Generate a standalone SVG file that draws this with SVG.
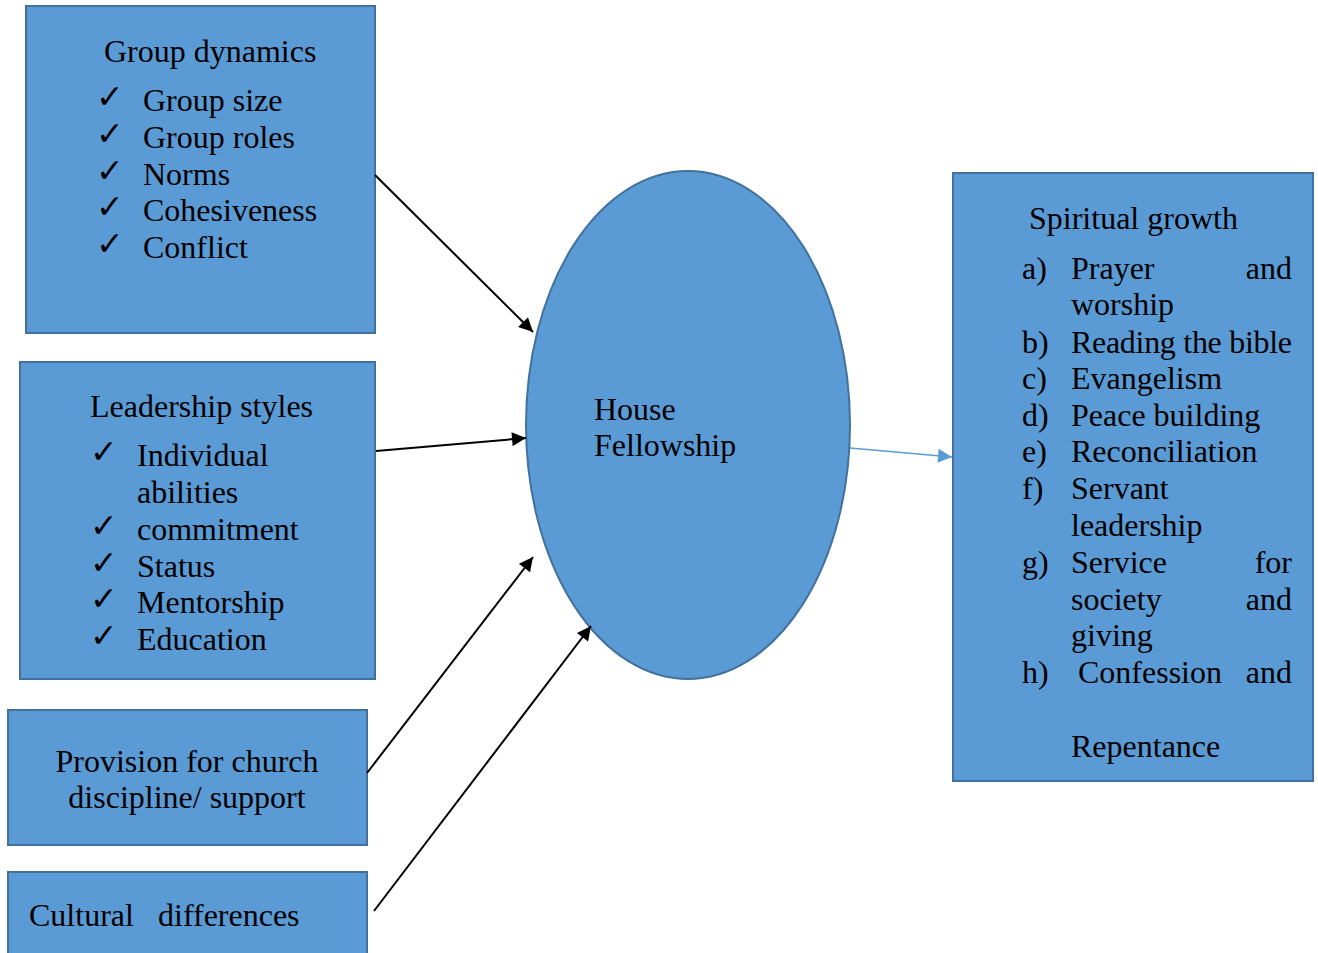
<svg xmlns="http://www.w3.org/2000/svg" width="1318" height="953" viewBox="0 0 1318 953">
  <style>
    .box { fill: #5B9BD5; stroke: #41719C; stroke-width: 2; }
    .t { font-family: "Liberation Serif", "Times New Roman", serif; font-size: 32px; fill: #000; }
    .ck { font-family: "DejaVu Sans", sans-serif; font-size: 33px; fill: #000; }
    .conn { stroke: #000; stroke-width: 2; fill: none; }
    .conn-blue { stroke: #5B9BD5; stroke-width: 1.5; fill: none; }
  </style>
  <defs>
    <marker id="ah" viewBox="0 0 10 10" refX="10" refY="5" markerWidth="17" markerHeight="14" markerUnits="userSpaceOnUse" orient="auto">
      <path d="M0,0 L10,5 L0,10 Z" fill="#000"/>
    </marker>
    <marker id="ahb" viewBox="0 0 10 10" refX="10" refY="5" markerWidth="16" markerHeight="14" markerUnits="userSpaceOnUse" orient="auto">
      <path d="M0,0 L10,5 L0,10 Z" fill="#5B9BD5"/>
    </marker>
  </defs>

  <g id="group-dynamics">
    <rect class="box" x="26" y="6" width="349" height="327"/>
    <text class="t" x="104" y="62">Group dynamics</text>
    <text class="ck" x="96" y="108">✓</text><text class="t" x="143" y="111">Group size</text>
    <text class="ck" x="96" y="145">✓</text><text class="t" x="143" y="148">Group roles</text>
    <text class="ck" x="96" y="182">✓</text><text class="t" x="143" y="185">Norms</text>
    <text class="ck" x="96" y="218">✓</text><text class="t" x="143" y="221">Cohesiveness</text>
    <text class="ck" x="96" y="255">✓</text><text class="t" x="143" y="258">Conflict</text>
  </g>

  <g id="leadership-styles">
    <rect class="box" x="20" y="362" width="355" height="317"/>
    <text class="t" x="90" y="417">Leadership styles</text>
    <text class="ck" x="90" y="463">✓</text><text class="t" x="137" y="466">Individual</text>
    <text class="t" x="137" y="503">abilities</text>
    <text class="ck" x="90" y="537">✓</text><text class="t" x="137" y="540">commitment</text>
    <text class="ck" x="90" y="574">✓</text><text class="t" x="137" y="577">Status</text>
    <text class="ck" x="90" y="610">✓</text><text class="t" x="137" y="613">Mentorship</text>
    <text class="ck" x="90" y="647">✓</text><text class="t" x="137" y="650">Education</text>
  </g>

  <g id="church-discipline">
    <rect class="box" x="8" y="710" width="359" height="135"/>
    <text class="t" x="187" y="772" text-anchor="middle">Provision for church</text>
    <text class="t" x="187" y="808" text-anchor="middle">discipline/ support</text>
  </g>

  <g id="cultural-differences">
    <rect class="box" x="8" y="872" width="359" height="100"/>
    <text class="t" x="29" y="926">Cultural</text>
    <text class="t" x="158" y="926">differences</text>
  </g>

  <g id="house-fellowship">
    <ellipse class="box" cx="688" cy="425" rx="162" ry="254"/>
    <text class="t" x="594" y="420">House</text>
    <text class="t" x="594" y="456">Fellowship</text>
  </g>

  <g id="spiritual-growth">
    <rect class="box" x="953" y="173" width="360" height="608"/>
    <text class="t" x="1029" y="229">Spiritual growth</text>
    <text class="t" x="1022" y="279">a)</text><text class="t" x="1071" y="279">Prayer</text><text class="t" x="1292" y="279" text-anchor="end">and</text>
    <text class="t" x="1071" y="315">worship</text>
    <text class="t" x="1022" y="353">b)</text><text class="t" x="1071" y="353" textLength="221" lengthAdjust="spacing">Reading the bible</text>
    <text class="t" x="1022" y="389">c)</text><text class="t" x="1071" y="389">Evangelism</text>
    <text class="t" x="1022" y="426">d)</text><text class="t" x="1071" y="426">Peace building</text>
    <text class="t" x="1022" y="462">e)</text><text class="t" x="1071" y="462">Reconciliation</text>
    <text class="t" x="1022" y="499">f)</text><text class="t" x="1071" y="499">Servant</text>
    <text class="t" x="1071" y="536">leadership</text>
    <text class="t" x="1022" y="573">g)</text><text class="t" x="1071" y="573">Service</text><text class="t" x="1292" y="573" text-anchor="end">for</text>
    <text class="t" x="1071" y="610">society</text><text class="t" x="1292" y="610" text-anchor="end">and</text>
    <text class="t" x="1071" y="646">giving</text>
    <text class="t" x="1022" y="683">h)</text><text class="t" x="1078" y="683">Confession</text><text class="t" x="1292" y="683" text-anchor="end">and</text>
    <text class="t" x="1071" y="757">Repentance</text>
  </g>

  <g id="connectors">
    <line class="conn" x1="375" y1="175" x2="533" y2="332" marker-end="url(#ah)"/>
    <line class="conn" x1="376" y1="451" x2="526" y2="438" marker-end="url(#ah)"/>
    <line class="conn" x1="367" y1="773" x2="533" y2="557" marker-end="url(#ah)"/>
    <line class="conn" x1="374" y1="911" x2="591" y2="626" marker-end="url(#ah)"/>
    <line class="conn-blue" x1="850" y1="448" x2="952" y2="457" marker-end="url(#ahb)"/>
  </g>
</svg>
